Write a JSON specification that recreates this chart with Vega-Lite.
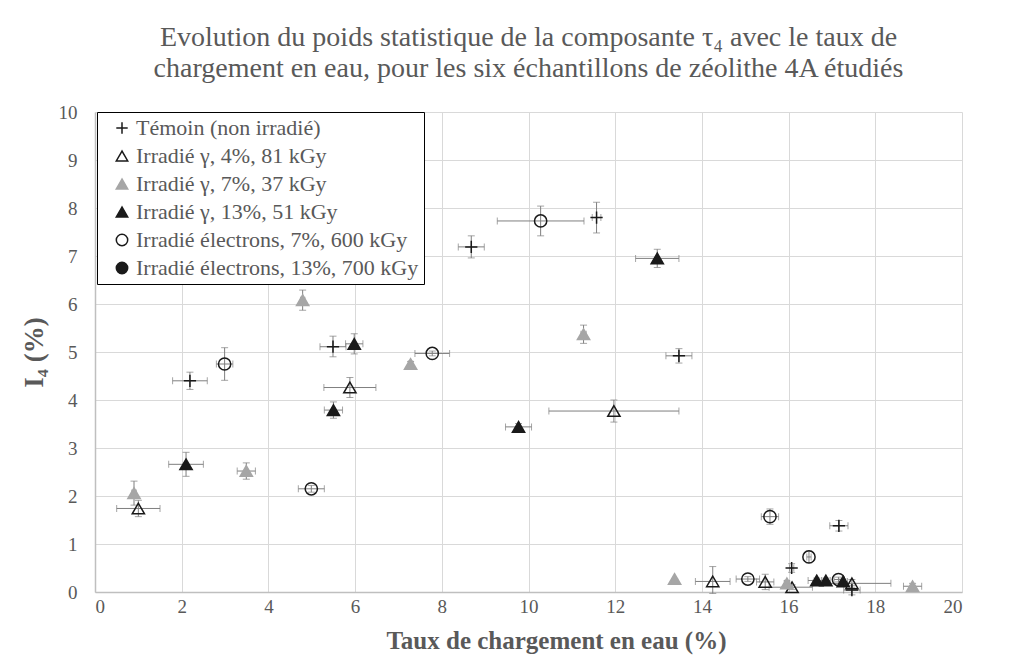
{
  "$schema": "https://vega.github.io/schema/vega-lite/v6.json",
  "width": 867,
  "height": 480,
  "autosize": {"type": "none"},
  "padding": {"left": 95, "top": 112, "right": 49, "bottom": 76},
  "background": "white",
  "title": {
    "text": ["Evolution du poids statistique de la composante τ₄ avec le taux de", "chargement en eau, pour les six échantillons de zéolithe 4A étudiés"],
    "font": "Liberation Serif",
    "fontSize": 28,
    "fontWeight": "normal",
    "color": "#595959",
    "anchor": "middle",
    "offset": 20,
    "lineHeight": 31
  },
  "config": {
    "view": {"stroke": null},
    "axis": {
      "labelFont": "Liberation Serif",
      "labelFontSize": 19,
      "labelColor": "#595959",
      "titleFont": "Liberation Serif",
      "titleFontSize": 25,
      "titleFontWeight": "bold",
      "titleColor": "#595959",
      "gridColor": "#d9d9d9",
      "gridWidth": 1,
      "domainColor": "#bfbfbf",
      "domainWidth": 1.5,
      "ticks": false,
      "tickSize": 0
    },
    "legend": {
      "labelFont": "Liberation Serif",
      "labelFontSize": 22,
      "labelColor": "#595959",
      "labelLimit": 400,
      "symbolStrokeWidth": 1.5,
      "symbolSize": 130,
      "symbolOffset": 9,
      "strokeColor": "#000000",
      "fillColor": "#ffffff",
      "padding": 5,
      "rowPadding": 6,
      "labelOffset": 3
    }
  },
  "data": {
    "values": [
      {"s": "Témoin (non irradié)", "x": 2.19, "y": 4.40, "xlo": 1.79, "xhi": 2.59, "ylo": 4.22, "yhi": 4.58},
      {"s": "Témoin (non irradié)", "x": 5.49, "y": 5.11, "xlo": 5.19, "xhi": 5.79, "ylo": 4.90, "yhi": 5.33},
      {"s": "Témoin (non irradié)", "x": 8.68, "y": 7.19, "xlo": 8.38, "xhi": 8.98, "ylo": 6.96, "yhi": 7.42},
      {"s": "Témoin (non irradié)", "x": 11.57, "y": 7.80, "xlo": 11.47, "xhi": 11.67, "ylo": 7.48, "yhi": 8.12},
      {"s": "Témoin (non irradié)", "x": 13.47, "y": 4.92, "xlo": 13.17, "xhi": 13.77, "ylo": 4.77, "yhi": 5.07},
      {"s": "Témoin (non irradié)", "x": 17.16, "y": 1.38, "xlo": 16.95, "xhi": 17.37, "ylo": 1.27, "yhi": 1.49},
      {"s": "Témoin (non irradié)", "x": 16.07, "y": 0.50, "xlo": 16.02, "xhi": 16.12, "ylo": 0.41, "yhi": 0.59},
      {"s": "Témoin (non irradié)", "x": 17.46, "y": 0.04, "xlo": 17.27, "xhi": 17.65, "ylo": -0.06, "yhi": 0.14},
      {"s": "Irradié γ, 4%, 81 kGy", "x": 1.00, "y": 1.74, "xlo": 0.50, "xhi": 1.50, "ylo": 1.57, "yhi": 1.91},
      {"s": "Irradié γ, 4%, 81 kGy", "x": 5.88, "y": 4.26, "xlo": 5.28, "xhi": 6.48, "ylo": 4.05, "yhi": 4.47},
      {"s": "Irradié γ, 4%, 81 kGy", "x": 11.97, "y": 3.77, "xlo": 10.47, "xhi": 13.47, "ylo": 3.54, "yhi": 4.00},
      {"s": "Irradié γ, 4%, 81 kGy", "x": 14.25, "y": 0.22, "xlo": 13.85, "xhi": 14.65, "ylo": -0.03, "yhi": 0.53},
      {"s": "Irradié γ, 4%, 81 kGy", "x": 15.46, "y": 0.21, "xlo": 15.26, "xhi": 15.66, "ylo": 0.05, "yhi": 0.37},
      {"s": "Irradié γ, 4%, 81 kGy", "x": 16.08, "y": 0.10, "xlo": 15.55, "xhi": 16.55, "ylo": 0.05, "yhi": 0.15},
      {"s": "Irradié γ, 4%, 81 kGy", "x": 17.46, "y": 0.18, "xlo": 16.56, "xhi": 18.36, "ylo": 0.10, "yhi": 0.26},
      {"s": "Irradié γ, 7%, 37 kGy", "x": 0.90, "y": 2.06, "xlo": 0.85, "xhi": 0.95, "ylo": 1.81, "yhi": 2.31},
      {"s": "Irradié γ, 7%, 37 kGy", "x": 3.49, "y": 2.52, "xlo": 3.28, "xhi": 3.70, "ylo": 2.35, "yhi": 2.69},
      {"s": "Irradié γ, 7%, 37 kGy", "x": 4.79, "y": 6.08, "xlo": 4.74, "xhi": 4.84, "ylo": 5.87, "yhi": 6.29},
      {"s": "Irradié γ, 7%, 37 kGy", "x": 7.28, "y": 4.75, "xlo": 7.23, "xhi": 7.33, "ylo": 4.70, "yhi": 4.80},
      {"s": "Irradié γ, 7%, 37 kGy", "x": 11.27, "y": 5.37, "xlo": 11.21, "xhi": 11.33, "ylo": 5.18, "yhi": 5.56},
      {"s": "Irradié γ, 7%, 37 kGy", "x": 13.37, "y": 0.27, "xlo": 13.36, "xhi": 13.38, "ylo": 0.26, "yhi": 0.28},
      {"s": "Irradié γ, 7%, 37 kGy", "x": 15.96, "y": 0.18, "xlo": 15.91, "xhi": 16.01, "ylo": 0.13, "yhi": 0.23},
      {"s": "Irradié γ, 7%, 37 kGy", "x": 18.86, "y": 0.12, "xlo": 18.65, "xhi": 19.07, "ylo": 0.06, "yhi": 0.18},
      {"s": "Irradié γ, 13%, 51 kGy", "x": 2.10, "y": 2.66, "xlo": 1.70, "xhi": 2.50, "ylo": 2.41, "yhi": 2.91},
      {"s": "Irradié γ, 13%, 51 kGy", "x": 5.50, "y": 3.79, "xlo": 5.29, "xhi": 5.71, "ylo": 3.62, "yhi": 3.96},
      {"s": "Irradié γ, 13%, 51 kGy", "x": 5.98, "y": 5.17, "xlo": 5.78, "xhi": 6.18, "ylo": 4.96, "yhi": 5.38},
      {"s": "Irradié γ, 13%, 51 kGy", "x": 9.77, "y": 3.44, "xlo": 9.47, "xhi": 10.07, "ylo": 3.37, "yhi": 3.51},
      {"s": "Irradié γ, 13%, 51 kGy", "x": 12.97, "y": 6.95, "xlo": 12.47, "xhi": 13.47, "ylo": 6.76, "yhi": 7.14},
      {"s": "Irradié γ, 13%, 51 kGy", "x": 16.65, "y": 0.24, "xlo": 16.45, "xhi": 16.85, "ylo": 0.19, "yhi": 0.29},
      {"s": "Irradié γ, 13%, 51 kGy", "x": 16.86, "y": 0.24, "xlo": 16.76, "xhi": 16.96, "ylo": 0.19, "yhi": 0.29},
      {"s": "Irradié γ, 13%, 51 kGy", "x": 17.26, "y": 0.22, "xlo": 17.16, "xhi": 17.36, "ylo": 0.17, "yhi": 0.27},
      {"s": "Irradié électrons, 7%, 600 kGy", "x": 2.99, "y": 4.75, "xlo": 2.80, "xhi": 3.18, "ylo": 4.41, "yhi": 5.09},
      {"s": "Irradié électrons, 7%, 600 kGy", "x": 4.99, "y": 2.15, "xlo": 4.69, "xhi": 5.29, "ylo": 2.08, "yhi": 2.22},
      {"s": "Irradié électrons, 7%, 600 kGy", "x": 7.78, "y": 4.97, "xlo": 7.38, "xhi": 8.18, "ylo": 4.92, "yhi": 5.02},
      {"s": "Irradié électrons, 7%, 600 kGy", "x": 10.28, "y": 7.73, "xlo": 9.28, "xhi": 11.28, "ylo": 7.42, "yhi": 8.04},
      {"s": "Irradié électrons, 7%, 600 kGy", "x": 15.06, "y": 0.27, "xlo": 14.79, "xhi": 15.33, "ylo": 0.22, "yhi": 0.32},
      {"s": "Irradié électrons, 7%, 600 kGy", "x": 15.57, "y": 1.57, "xlo": 15.37, "xhi": 15.77, "ylo": 1.41, "yhi": 1.73},
      {"s": "Irradié électrons, 7%, 600 kGy", "x": 16.47, "y": 0.73, "xlo": 16.42, "xhi": 16.52, "ylo": 0.61, "yhi": 0.85},
      {"s": "Irradié électrons, 7%, 600 kGy", "x": 17.15, "y": 0.26, "xlo": 17.05, "xhi": 17.25, "ylo": 0.21, "yhi": 0.31}
    ]
  },
  "layer": [
    {
      "mark": {"type": "errorbar", "ticks": true, "size": 7, "thickness": 1, "color": "#7f7f7f", "clip": false},
      "encoding": {
        "x": {"field": "xlo", "type": "quantitative", "title": "Taux de chargement en eau (%)", "scale": {"domain": [0, 20], "nice": false}},
        "x2": {"field": "xhi"},
        "y": {"field": "y", "type": "quantitative", "title": "I₄ (%)", "scale": {"domain": [0, 10], "nice": false}}
      }
    },
    {
      "mark": {"type": "errorbar", "ticks": true, "size": 7, "thickness": 1, "color": "#7f7f7f", "clip": false},
      "encoding": {
        "y": {"field": "ylo", "type": "quantitative", "title": "I₄ (%)", "scale": {"domain": [0, 10], "nice": false}},
        "y2": {"field": "yhi"},
        "x": {"field": "x", "type": "quantitative", "title": "Taux de chargement en eau (%)", "scale": {"domain": [0, 20], "nice": false}}
      }
    },
    {
      "mark": {"type": "point", "size": 150, "strokeWidth": 1.5, "opacity": 1, "fillOpacity": 1, "clip": false},
      "encoding": {
        "x": {
          "field": "x", "type": "quantitative", "title": "Taux de chargement en eau (%)",
          "scale": {"domain": [0, 20], "nice": false},
          "axis": {"values": [0, 2, 4, 6, 8, 10, 12, 14, 16, 18, 20], "labelPadding": 5, "titlePadding": 12, "titleX": 461, "titleAlign": "center"}
        },
        "y": {
          "field": "y", "type": "quantitative", "title": "I₄ (%)",
          "scale": {"domain": [0, 10], "nice": false},
          "axis": {"values": [0, 1, 2, 3, 4, 5, 6, 7, 8, 9, 10], "labelPadding": 18, "titlePadding": 10, "titleFontSize": 27}
        },
        "shape": {
          "field": "s", "type": "nominal",
          "scale": {
            "domain": ["Témoin (non irradié)", "Irradié γ, 4%, 81 kGy", "Irradié γ, 7%, 37 kGy", "Irradié γ, 13%, 51 kGy", "Irradié électrons, 7%, 600 kGy", "Irradié électrons, 13%, 700 kGy"],
            "range": ["M-1,0H1M0,-1V1", "triangle-up", "triangle-up", "triangle-up", "circle", "circle"]
          },
          "legend": {"title": null, "orient": "none", "legendX": 2, "legendY": 0}
        },
        "fill": {
          "field": "s", "type": "nominal",
          "scale": {
            "domain": ["Témoin (non irradié)", "Irradié γ, 4%, 81 kGy", "Irradié γ, 7%, 37 kGy", "Irradié γ, 13%, 51 kGy", "Irradié électrons, 7%, 600 kGy", "Irradié électrons, 13%, 700 kGy"],
            "range": ["transparent", "transparent", "#a6a6a6", "#1a1a1a", "transparent", "#1a1a1a"]
          },
          "legend": {"title": null, "orient": "none", "legendX": 2, "legendY": 0}
        },
        "stroke": {
          "field": "s", "type": "nominal",
          "scale": {
            "domain": ["Témoin (non irradié)", "Irradié γ, 4%, 81 kGy", "Irradié γ, 7%, 37 kGy", "Irradié γ, 13%, 51 kGy", "Irradié électrons, 7%, 600 kGy", "Irradié électrons, 13%, 700 kGy"],
            "range": ["#1a1a1a", "#1a1a1a", "#a6a6a6", "#1a1a1a", "#1a1a1a", "#1a1a1a"]
          },
          "legend": {"title": null, "orient": "none", "legendX": 2, "legendY": 0}
        }
      }
    }
  ]
}
